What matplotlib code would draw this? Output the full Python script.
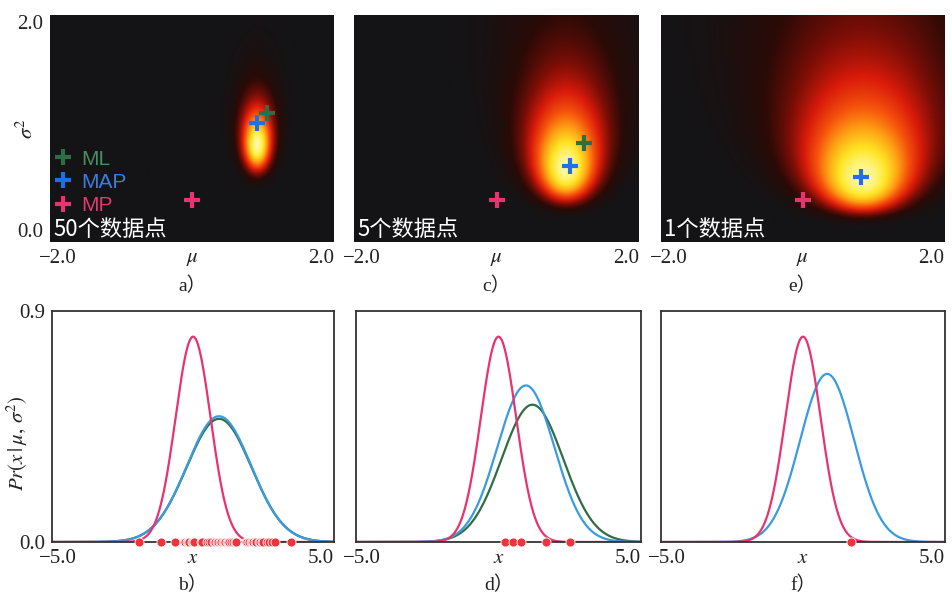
import numpy as np
import matplotlib
matplotlib.use("Agg")
import matplotlib.pyplot as plt
from matplotlib.colors import LinearSegmentedColormap, PowerNorm
from matplotlib.transforms import ScaledTranslation
from matplotlib.lines import Line2D

plt.rcParams["font.family"] = ["Liberation Serif", "Noto Sans CJK SC"]
plt.rcParams["mathtext.fontset"] = "stix"

# ---------- data ----------
tags_top = ["a）", "c）", "e）"]
tags_bot = ["b）", "d）", "f）"]
n_text = ["50个数据点", "5个数据点", "1个数据点"]

# posterior surface per top panel: normal-inverse-gamma (alpha, beta, gamma, delta)
nig_alpha = [18.0, 3.5, 1.5]
nig_beta = [16.8, 3.3, 1.714]
nig_gamma = [40.0, 6.0, 2.0]
nig_delta = [0.92, 0.98, 0.845]

# crosses in (mu, sigma^2); no ML cross shown for 1 point
ml_mu = [1.06, 1.23, None]
ml_s2 = [1.14, 0.875, None]
map_mu = [0.92, 1.03, 0.83]
map_s2 = [1.05, 0.67, 0.575]
mp_mu = [0.0, 0.0, 0.0]
mp_s2 = [0.37, 0.37, 0.37]

# bottom curves: (peak, mean, sd)
mp_curve = [(0.80, 0.00, 0.62), (0.80, 0.00, 0.62), (0.80, 0.00, 0.62)]
map_curve = [(0.49, 0.92, 1.14), (0.61, 0.96, 1.00), (0.655, 0.85, 0.95)]
ml_curve = [(0.48, 0.92, 1.15), (0.535, 1.19, 1.08), None]

pts_50 = [-1.91, -1.15, -0.64, -0.32, -0.27, -0.22, -0.17, -0.13, -0.05, -0.01,
          0.05, 0.28, 0.33, 0.51, 0.55, 0.64, 0.74, 0.78, 0.84, 0.88,
          0.96, 1.00, 1.05, 1.10, 1.14, 1.19, 1.24, 1.29, 1.33, 1.40,
          1.49, 1.52, 1.88, 1.92, 1.97, 2.00, 2.04, 2.08, 2.12, 2.20,
          2.24, 2.32, 2.36, 2.44, 2.48, 2.61, 2.70, 2.79, 2.91, 3.46]
pts_5 = [0.23, 0.52, 0.79, 1.67, 2.51]
pts_1 = [1.69]
points = [pts_50, pts_5, pts_1]

# ---------- style ----------
C_ML = "#2f6e45"
C_MAP = "#1f6fe6"
C_MP = "#e8336f"
C_MAP_LINE = "#3a9be0"
C_DOT = "#f0323c"
TXT = "#222222"

cmap = LinearSegmentedColormap.from_list(
    "glow", ["#141416", "#2a0a06", "#7a0e06", "#d81a0a", "#f5520c",
             "#ffa214", "#ffe524", "#fffaa0"])

top_x = [0.0525, 0.3715, 0.6936]
top_w = [0.298, 0.299, 0.297]
bot_x = [0.0546, 0.3736, 0.6936]
bot_w = [0.296, 0.299, 0.298]

fig = plt.figure(figsize=(9.53, 5.95), dpi=100)

mu_grid = np.linspace(-2, 2, 400)
s2_grid = np.linspace(0.005, 2, 400)
MU, S2 = np.meshgrid(mu_grid, s2_grid)


def shift(label, dx_px):
    label.set_transform(label.get_transform() +
                        ScaledTranslation(dx_px / 100.0, 0, fig.dpi_scale_trans))


for i in range(3):
    # ----- top: posterior over (mu, sigma^2) -----
    ax = fig.add_axes([top_x[i], 0.5933, top_w[i], 0.3815])
    a, b, g, d = nig_alpha[i], nig_beta[i], nig_gamma[i], nig_delta[i]
    logp = -(a + 1.5) * np.log(S2) - (2 * b + g * (MU - d) ** 2) / (2 * S2)
    dens = np.exp(logp - logp.max())
    ax.imshow(dens, extent=[-2, 2, 0, 2], origin="lower", aspect="auto",
              cmap=cmap, norm=PowerNorm(0.85, 0, 1), interpolation="bilinear")
    if ml_mu[i] is not None:
        ax.plot(ml_mu[i], ml_s2[i], "+", color=C_ML, ms=12, mew=3, zorder=3)
    ax.plot(map_mu[i], map_s2[i], "+", color=C_MAP, ms=12, mew=3, zorder=4)
    ax.plot(mp_mu[i], mp_s2[i], "+", color=C_MP, ms=12, mew=3, zorder=3)
    ax.set_xlim(-2, 2)
    ax.set_ylim(0, 2)
    for s in ax.spines.values():
        s.set_visible(False)
    ax.set_xticks([-2, 0, 2])
    ax.set_xticklabels(["−2.0", r"$\mu$", "2.0"])
    ax.set_yticks([0, 2])
    ax.set_yticklabels(["0.0", "2.0"] if i == 0 else ["", ""])
    ax.tick_params(length=0, labelsize=15, labelcolor=TXT, pad=5)
    xl = ax.get_xticklabels()
    shift(xl[0], 8)
    xl[2].set_ha("right")
    if i == 0:
        yl = ax.get_yticklabels()
        yl[0].set_va("bottom")
        yl[1].set_va("top")
        ax.text(-0.081, 0.5, r"$\sigma^2$", rotation=90, transform=ax.transAxes,
                ha="center", va="center", fontsize=15, color=TXT)
        handles = [Line2D([], [], ls="none", marker="+", ms=12, mew=3, color=c)
                   for c in (C_ML, C_MAP, C_MP)]
        ax.legend(handles, ["ML", "MAP", "MP"], loc="lower left",
                  bbox_to_anchor=(0.0, 0.11), frameon=False,
                  labelcolor=["#4e8a62", "#3b7de0", "#e03a70"],
                  prop={"family": "Liberation Sans", "size": 15},
                  handlelength=1.0, handletextpad=0.4, labelspacing=0.2,
                  borderpad=0.1, borderaxespad=0)
    ax.text(0.012, 0.005, n_text[i], transform=ax.transAxes, ha="left", va="bottom",
            color="white", fontsize=16, family=["Noto Sans CJK SC"])
    ax.text(0.5, -0.195, tags_top[i], transform=ax.transAxes, ha="center",
            va="center", fontsize=14, color=TXT)

    # ----- bottom: fitted normal densities -----
    bx = fig.add_axes([bot_x[i], 0.0891, bot_w[i], 0.3882])
    x = np.linspace(-5, 5, 600)
    curves = [(ml_curve[i], C_ML), (map_curve[i], C_MAP_LINE), (mp_curve[i], C_MP)]
    for params, col in curves:
        if params is None:
            continue
        pk, m, sd = params
        bx.plot(x, pk * np.exp(-0.5 * ((x - m) / sd) ** 2), color=col, lw=1.6,
                solid_capstyle="butt")
    bx.plot(points[i], np.zeros(len(points[i])), "o", color=C_DOT, ms=6.5,
            mec="white", mew=0.6, clip_on=False, zorder=5)
    bx.set_xlim(-5, 5)
    bx.set_ylim(0, 0.9)
    for s in bx.spines.values():
        s.set_color("#333333")
        s.set_linewidth(1.3)
    bx.set_xticks([-5, 0, 5])
    bx.set_xticklabels(["−5.0", r"$x$", "5.0"])
    bx.set_yticks([0, 0.9])
    bx.set_yticklabels(["0.0", "0.9"] if i == 0 else ["", ""])
    bx.tick_params(length=0, labelsize=15, labelcolor=TXT, pad=5)
    xl = bx.get_xticklabels()
    shift(xl[0], 6)
    xl[2].set_ha("right")
    if i == 0:
        bx.text(-0.124, 0.43, r"$Pr(x\,|\,\mu,\,\sigma^2)$", rotation=90,
                transform=bx.transAxes, ha="center", va="center", fontsize=15,
                color=TXT)
    bx.text(0.5, -0.185, tags_bot[i], transform=bx.transAxes, ha="center",
            va="center", fontsize=14, color=TXT)

fig.savefig("out.png", dpi=100)
